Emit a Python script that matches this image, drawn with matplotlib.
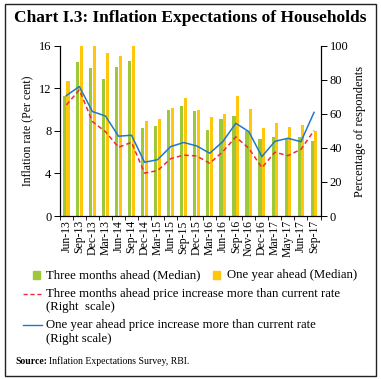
import numpy as np
import matplotlib
matplotlib.use('Agg')
import matplotlib.pyplot as plt
from matplotlib.lines import Line2D
from matplotlib.patches import Rectangle

plt.rcParams['font.family'] = ['Liberation Serif', 'DejaVu Serif']

# 데이터
quarters = ['Jun-13', 'Sep-13', 'Dec-13', 'Mar-13', 'Jun-14', 'Sep-14', 'Dec-14',
            'Mar-15', 'Jun-15', 'Sep-15', 'Dec-15', 'Mar-16', 'Jun-16', 'Sep-16',
            'Nov-16', 'Dec-16', 'Mar-17', 'May-17', 'Jun-17', 'Sep-17']
three_month_median = [11.3, 14.5, 13.9, 12.9, 14.0, 14.6, 8.25, 8.5, 9.95, 10.35,
                      9.85, 8.1, 9.1, 9.45, 8.0, 7.25, 7.45, 7.25, 7.45, 7.1]
one_year_median = [12.7, 16.0, 16.0, 15.3, 15.05, 16.0, 8.9, 9.15, 10.15, 11.1,
                   9.95, 9.35, 9.55, 11.3, 10.05, 8.25, 8.75, 8.4, 8.55, 7.95]
three_month_more = [65.3, 74.1, 55.5, 49.6, 40.4, 43.3, 25.2, 26.7, 33.7, 35.8,
                    35.3, 31.0, 37.8, 46.5, 39.8, 28.4, 37.5, 35.5, 39.2, 50.2]
one_year_more = [70.8, 76.1, 61.4, 58.8, 46.9, 47.5, 31.6, 33.1, 40.8, 43.2,
                 41.2, 36.9, 43.7, 54.5, 49.6, 34.9, 43.9, 45.7, 43.7, 60.9]

green = '#9DC83A'
yellow = '#FFC60B'
red = '#EE2A3A'
blue = '#1F78CC'

W, H = 381, 379
fig = plt.figure(figsize=(W / 100, H / 100), dpi=100)
ax = fig.add_axes([0.157, 0.430, 0.686, 0.449])
ax2 = ax.twinx()

x = np.arange(len(quarters))
w = 0.24
ax.bar(x - 0.14, three_month_median, w, color=green, zorder=2)
ax.bar(x + 0.13, one_year_median, w, color=yellow, zorder=2)

ax2.plot(x, three_month_more, color=red, linestyle=(0, (3, 2)), linewidth=1.1)
ax2.plot(x, one_year_more, color=blue, linewidth=1.1)

ax.set_xlim(-0.5, 19.55)
ax.set_ylim(0, 16)
ax2.set_ylim(0, 100)
ax.set_yticks([0, 4, 8, 12, 16])
ax2.set_yticks([0, 20, 40, 60, 80, 100])
ax.set_xticks(x)
ax.set_xticklabels(quarters, rotation=90, fontsize=8.5)
ax.set_xticks(np.arange(-0.5, 20, 1), minor=True)
ax.tick_params(axis='x', which='major', length=0, pad=3)
ax.tick_params(axis='x', which='minor', length=3, width=0.6)
ax.tick_params(axis='y', labelsize=9, length=4, width=0.7, pad=2)
ax2.tick_params(axis='y', labelsize=9, length=4, width=0.7, pad=2)

for a in (ax, ax2):
    a.spines['top'].set_visible(False)
    for s in ('left', 'right', 'bottom'):
        a.spines[s].set_linewidth(0.8)

ax.set_ylabel('Inflation rate (Per cent)', fontsize=8.5, labelpad=4)
ax2.set_ylabel('Percentage of respondents', fontsize=9, labelpad=4)

# 제목
fig.text(14 / W, 1 - 18 / H, 'Chart I.3: Inflation Expectations of Households',
         fontsize=12.5, fontweight='bold', va='center', ha='left')

# 범례 (직접 그림)
fs = 9.2
fig.patches.append(Rectangle((33 / W, 1 - 279 / H), 7 / W, 8 / H,
                             transform=fig.transFigure, color=green))
fig.text(46 / W, 1 - 275 / H, 'Three months ahead (Median)', fontsize=fs, va='center')
fig.patches.append(Rectangle((213 / W, 1 - 279 / H), 7 / W, 8 / H,
                             transform=fig.transFigure, color=yellow))
fig.text(227 / W, 1 - 275 / H, 'One year ahead (Median)', fontsize=fs, va='center')

fig.lines.append(Line2D([23 / W, 42 / W], [1 - 294 / H] * 2, transform=fig.transFigure,
                        color=red, linestyle=(0, (3, 2)), linewidth=1.0))
fig.text(46 / W, 1 - 294 / H, 'Three months ahead price increase more than current rate',
         fontsize=fs, va='center')
fig.text(46 / W, 1 - 307 / H, '(Right  scale)', fontsize=fs, va='center')

fig.lines.append(Line2D([23 / W, 42 / W], [1 - 325 / H] * 2, transform=fig.transFigure,
                        color=blue, linewidth=1.0))
fig.text(46 / W, 1 - 325 / H, 'One year ahead price increase more than current rate',
         fontsize=fs, va='center')
fig.text(46 / W, 1 - 339 / H, '(Right scale)', fontsize=fs, va='center')

# 출처
t = fig.text(15 / W, 1 - 361 / H, 'Source:', fontsize=7, fontweight='bold', va='center')
fig.canvas.draw()
bb = t.get_window_extent()
fig.text((bb.x1 + 2) / W, 1 - 361 / H, 'Inflation Expectations Survey, RBI.',
         fontsize=7, va='center')

# 바깥 테두리
fig.patches.append(Rectangle((5 / W, 3 / H), 371 / W, 372 / H,
                             transform=fig.transFigure, fill=False, edgecolor='#222222',
                             linewidth=1.0))

fig.savefig('out.png', dpi=100)
